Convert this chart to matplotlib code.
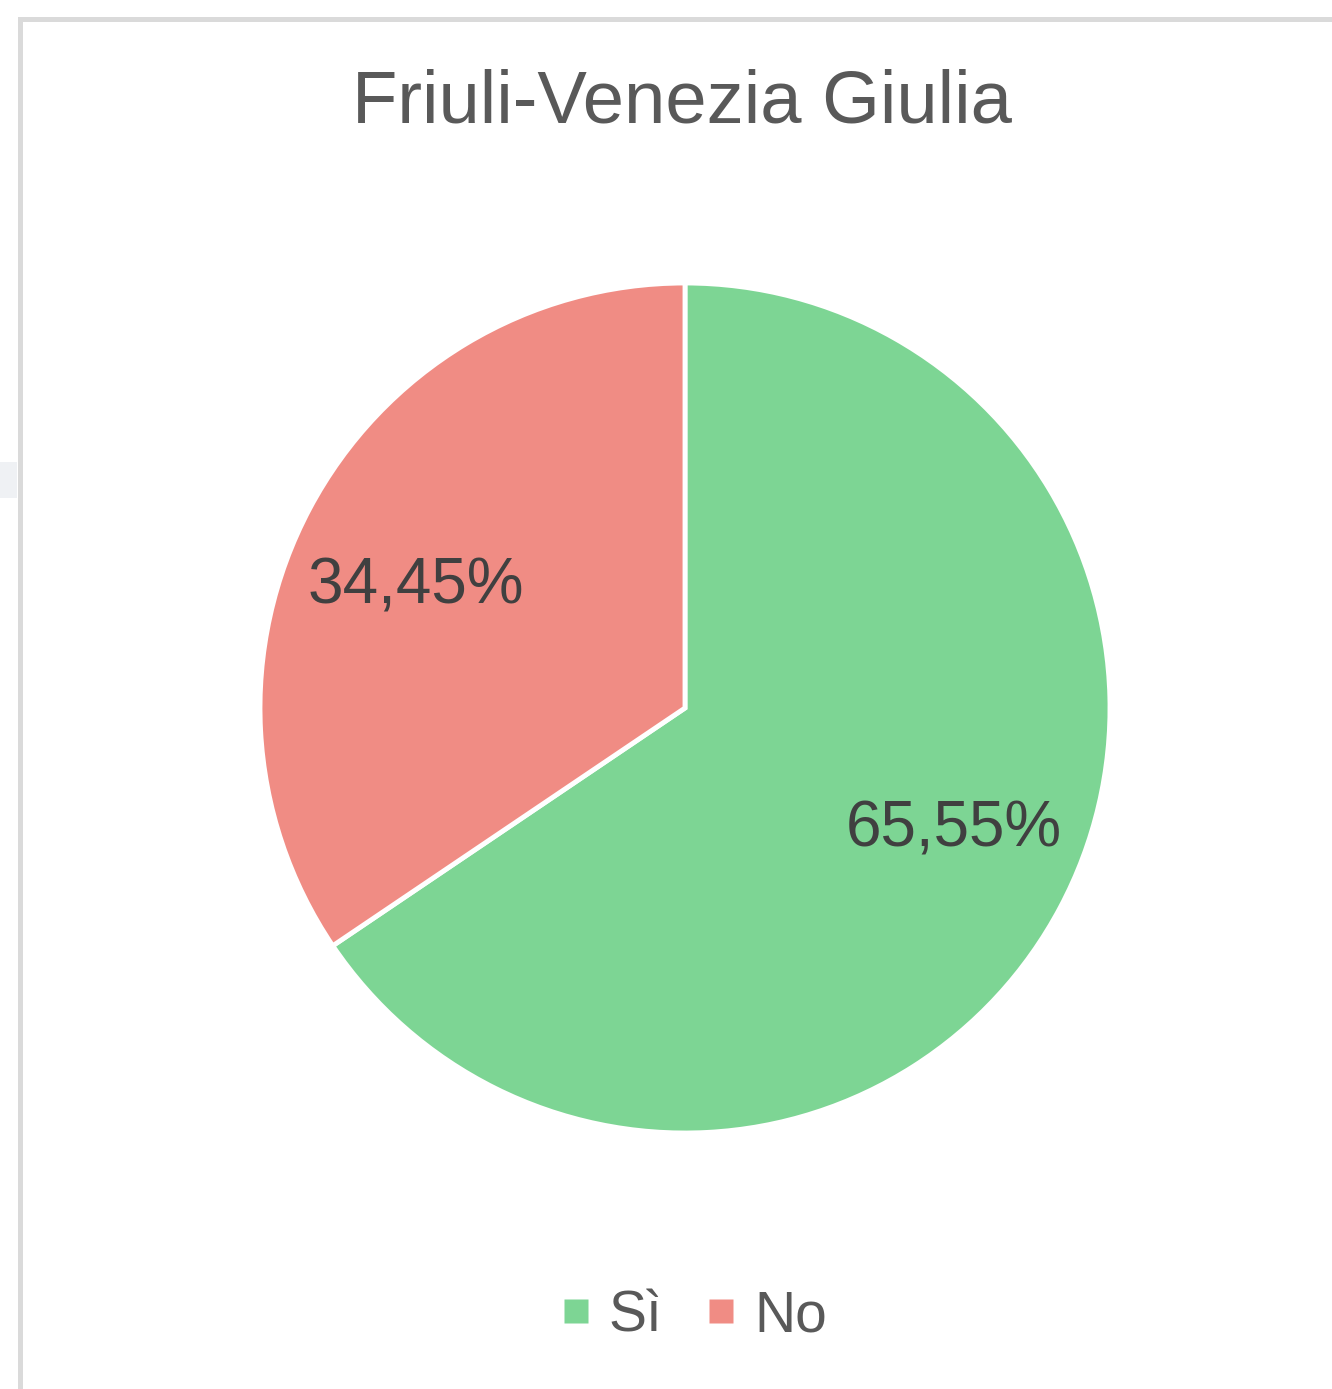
import numpy as np
import matplotlib.pyplot as plt
from matplotlib.patches import Rectangle
from matplotlib.lines import Line2D

# dati
categorie = ['Sì', 'No']
valori = [65.55, 34.45]
colori = ['#7dd594', '#f08c84']
titolo = 'Friuli-Venezia Giulia'

W, H = 1332, 1389
plt.rcParams['font.family'] = ['Liberation Sans', 'DejaVu Sans']

fig = plt.figure(figsize=(W / 100, H / 100), dpi=100)
fig.patch.set_facecolor('white')

# cornice del grafico (bordo grigio chiaro)
fig.patches.append(Rectangle((19.5 / W, -0.1), 1.2, 1.1 - 19.5 / H,
                             transform=fig.transFigure, fill=False,
                             edgecolor='#dadada', linewidth=3.6, zorder=0))
# piccola fascia grigia a sinistra
fig.patches.append(Rectangle((0, 1 - 498 / H), 17 / W, 36 / H,
                             transform=fig.transFigure, facecolor='#eff1f4',
                             edgecolor='none', zorder=0))

# torta: centro (685, 708) px, raggio 425 px
cx, cy, r = 685, 708, 425
ax = fig.add_axes([(cx - r) / W, (H - cy - r) / H, 2 * r / W, 2 * r / H])

wedges, testi = ax.pie(valori, colors=colori, startangle=90, counterclock=False,
                       radius=1, center=(0, 0),
                       wedgeprops=dict(edgecolor='white', linewidth=3.5),
                       labels=[f'{v:.2f}%'.replace('.', ',') for v in valori],
                       labeldistance=0.70,
                       textprops=dict(fontsize=46, color='#404040'))
# etichette leggermente ruotate in senso antiorario rispetto al centro dello spicchio
for w, t in zip(wedges, testi):
    ang = np.deg2rad((w.theta1 + w.theta2) / 2 + 3.6)
    t.set_position((0.695 * np.cos(ang), 0.695 * np.sin(ang)))
    t.set_horizontalalignment('center')
    t.set_verticalalignment('center')
ax.set_xlim(-1, 1)
ax.set_ylim(-1, 1)
ax.set_aspect('equal')
ax.axis('off')

fig.text(682 / W, 1 - 103 / H, titolo, ha='center', va='center',
         fontsize=53.5, color='#595959')

handles = [Line2D([], [], marker='s', linestyle='none', markersize=17,
                  markerfacecolor=c, markeredgecolor='none') for c in colori]
fig.legend(handles, categorie, loc='center', bbox_to_anchor=(695 / W, 1 - 1316 / H),
           ncol=2, frameon=False, fontsize=41, labelcolor='#595959',
           handlelength=0.45, handletextpad=0.35, columnspacing=0.8,
           borderpad=0)

fig.savefig('out.png', dpi=100)
